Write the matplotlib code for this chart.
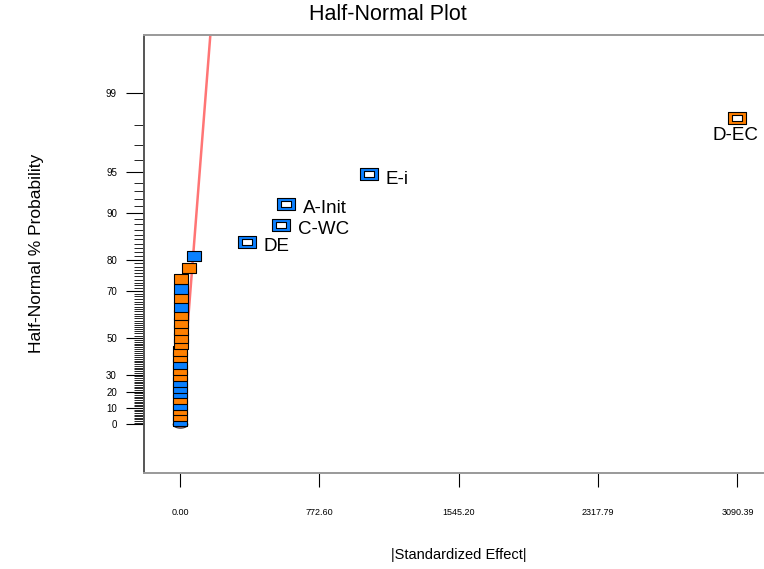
import numpy as np
import matplotlib
matplotlib.use("Agg")
import matplotlib.pyplot as plt
from statistics import NormalDist

# ---------------- data ----------------
effects = [3090.39, 1045.0, 590.0, 560.0, 371.0, 79.0, 52.0, 6.0, 5.0, 4.6,
           4.3, 4.0, 3.7, 3.4, 3.1, 2.8, 2.5, 2.2, 2.0, 1.8,
           1.6, 1.4, 1.2, 1.0, 0.8, 0.6, 0.4, 0.25, 0.1]
probabilities = [98.28, 94.83, 91.38, 87.93, 84.48, 81.03, 77.59, 74.14, 70.69, 67.24,
                 63.79, 60.34, 56.90, 53.45, 50.00, 46.55, 43.10, 39.66, 36.21, 32.76,
                 29.31, 25.86, 22.41, 18.97, 15.52, 12.07, 8.62, 5.17, 1.72]
signs = ['pos', 'neg', 'neg', 'neg', 'neg', 'neg', 'pos', 'pos', 'neg', 'pos',
         'neg', 'pos', 'pos', 'pos', 'pos', 'pos', 'pos', 'pos', 'neg', 'pos',
         'pos', 'neg', 'neg', 'neg', 'pos', 'neg', 'pos', 'pos', 'neg']
labels = ['D-EC', 'E-i', 'A-Init', 'C-WC', 'DE']
x_ticks = [0.00, 772.60, 1545.20, 2317.79, 3090.39]
x_tick_labels = ['0.00', '772.60', '1545.20', '2317.79', '3090.39']
y_major = [0, 10, 20, 30, 50, 70, 80, 90, 95, 99]
y_minor = [v for v in range(0, 100) if v not in y_major]
fit_sigma = 55.5          # slope of the reference line (effect per z unit)
line_x = [0.0, 200.0]

# ---------------- scale ----------------
_nd = NormalDist()

def pct_to_z(p):
    p = np.clip(np.asarray(p, dtype=float), -99.9999, 99.9999)
    return np.vectorize(lambda q: _nd.inv_cdf(0.5 + q / 200.0), otypes=[float])(p)

def z_to_pct(z):
    z = np.asarray(z, dtype=float)
    return np.vectorize(lambda t: (2 * _nd.cdf(t) - 1) * 100.0, otypes=[float])(z)

FONT = ['Liberation Sans', 'DejaVu Sans']
plt.rcParams['font.family'] = FONT

W, H = 764, 569
fig = plt.figure(figsize=(W / 100, H / 100), dpi=100)
ax = fig.add_axes([144 / W, (H - 473) / H, (W - 144) / W, (473 - 35) / H])
ax.set_yscale('function', functions=(pct_to_z, z_to_pct))
ax.set_xlim(-199.6, 3237.3)
ax.set_ylim(float(z_to_pct(-0.38)), float(z_to_pct(3.03)))

colors = {'pos': '#FF8000', 'neg': '#0A80FF'}
rect = [(-7, -4.5), (7, -4.5), (7, 4.5), (-7, 4.5), (-7, -4.5)]
ell_t = np.linspace(0, 2 * np.pi, 40)
ellipse = list(zip(7 * np.cos(ell_t), 3.5 * np.sin(ell_t)))

# reference line
line_p = [float(z_to_pct(x / fit_sigma)) for x in line_x]
ax.plot(line_x, line_p, color='#FF7575', lw=1.8, zorder=2, solid_capstyle='butt')
# origin marker
ax.plot([0], [0], marker=ellipse, ms=10.5, mfc='#E0828A', mec='#333333', mew=0.8,
        zorder=3, linestyle='none')

n = len(effects)
for i, (e, p, s) in enumerate(zip(effects, probabilities, signs)):
    z = 10 + (n - i)
    if i < len(labels):
        ax.plot([e], [p], marker=rect, ms=12.5, mfc=colors[s], mec='black',
                mew=0.8, zorder=z, linestyle='none')
        ax.plot([e], [p], marker=rect, ms=7, mfc='white', mec='black',
                mew=0.8, zorder=z + 0.5, linestyle='none')
    else:
        ax.plot([e], [p], marker=rect, ms=10.3, mfc=colors[s], mec='black',
                mew=0.8, zorder=z, linestyle='none')

for i, lab in enumerate(labels):
    if i == 0:
        ax.annotate(lab, (effects[i], probabilities[i]), xytext=(-2, -17),
                    textcoords='offset pixels', ha='center', va='center',
                    fontsize=13.5, zorder=50)
    else:
        ax.annotate(lab, (effects[i], probabilities[i]), xytext=(17, -5),
                    textcoords='offset pixels', ha='left', va='center',
                    fontsize=13.5, zorder=50)

# axes styling
ax.spines['right'].set_visible(False)
ax.spines['left'].set_color('#555555')
ax.spines['left'].set_linewidth(1.4)
ax.spines['top'].set_color('#999999')
ax.spines['top'].set_linewidth(1.4)
ax.spines['bottom'].set_color('#999999')
ax.spines['bottom'].set_linewidth(1.4)

ax.set_xticks(x_ticks)
ax.set_xticklabels(x_tick_labels)
ax.set_yticks(y_major)
ax.set_yticklabels([str(v) for v in y_major])
ax.set_yticks(y_minor, minor=True)
ax.xaxis.set_minor_locator(matplotlib.ticker.NullLocator())
ax.tick_params(axis='x', which='major', length=10, width=0.8, color='black',
               labelsize=6.5, pad=15)
ax.tick_params(axis='y', which='major', length=13, width=0.8, color='black',
               labelsize=7, pad=6.5)
ax.tick_params(axis='y', which='minor', length=7, width=0.6, color='black')

fig.text(388 / W, 1 - 14 / H, 'Half-Normal Plot', ha='center', va='center',
         fontsize=15.5)
fig.text(37 / W, 1 - 253 / H, 'Half-Normal % Probability', ha='center',
         va='center', rotation=90, fontsize=12.5)
fig.text(459 / W, 1 - 555 / H, '|Standardized Effect|', ha='center',
         va='center', fontsize=10.5)

fig.savefig('out.png', dpi=100)
